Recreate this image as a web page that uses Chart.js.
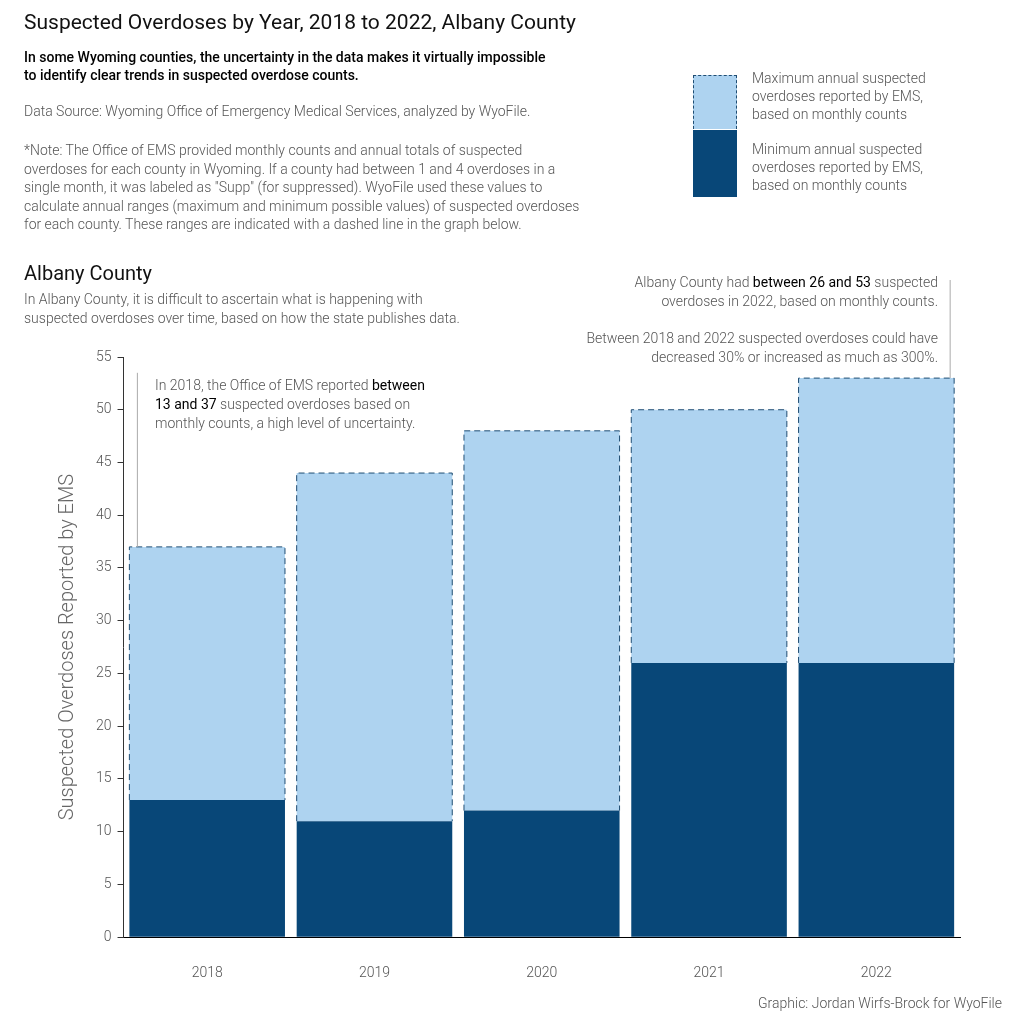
<!DOCTYPE html>
<html>
<head>
<meta charset="utf-8">
<script src="https://cdn.jsdelivr.net/npm/chart.js@4"></script>
<style>
  body { margin: 0; width: 1014px; height: 1024px; background: #fff; font-family: Roboto, sans-serif; font-weight: 300; color: #555; position: relative; overflow: hidden; }
  .t { position: absolute; z-index: 2; }
  #wrap { position: absolute; left: 0; top: 0; width: 1014px; height: 1024px; }
  b { font-weight: 400; color: #000; }
</style>
</head>
<body>
<div class="t" style="left:24px;top:10px;font-size:21px;color:#111;font-weight:400">Suspected Overdoses by Year, 2018 to 2022, Albany County</div>
<div class="t" style="left:24px;top:48px;font-size:14px;color:#000;font-weight:500;line-height:18px">In some Wyoming counties, the uncertainty in the data makes it virtually impossible<br>to identify clear trends in suspected overdose counts.</div>
<div class="t" style="left:24px;top:103px;font-size:14px">Data Source: Wyoming Office of Emergency Medical Services, analyzed by WyoFile.</div>
<div class="t" style="left:24px;top:141px;font-size:14px;line-height:18.5px">*Note: The Office of EMS provided monthly counts and annual totals of suspected<br>overdoses for each county in Wyoming. If a county had between 1 and 4 overdoses in a<br>single month, it was labeled as "Supp" (for suppressed). WyoFile used these values to<br>calculate annual ranges (maximum and minimum possible values) of suspected overdoses<br>for each county. These ranges are indicated with a dashed line in the graph below.</div>
<div class="t" style="left:693px;top:75px;width:44px;height:54px;background:#aed3f0;border:1px dashed #1f4d73;border-bottom:none;box-sizing:border-box"></div>
<div class="t" style="left:693px;top:130px;width:44px;height:67px;background:#084778"></div>
<div class="t" style="left:752px;top:69px;font-size:14px;line-height:18px">Maximum annual suspected<br>overdoses reported by EMS,<br>based on monthly counts</div>
<div class="t" style="left:752px;top:140px;font-size:14px;line-height:18px">Minimum annual suspected<br>overdoses reported by EMS,<br>based on monthly counts</div>
<div class="t" style="left:24px;top:261px;font-size:20px;color:#111;font-weight:400">Albany County</div>
<div class="t" style="left:24px;top:290px;font-size:14px;line-height:19px">In Albany County, it is difficult to ascertain what is happening with<br>suspected overdoses over time, based on how the state publishes data.</div>
<div class="t" style="right:76px;top:273px;font-size:14px;line-height:19px;text-align:right">Albany County had <b>between 26 and 53</b> suspected<br>overdoses in 2022, based on monthly counts.</div>
<div class="t" style="right:76px;top:329px;font-size:14px;line-height:19px;text-align:right">Between 2018 and 2022 suspected overdoses could have<br>decreased 30% or increased as much as 300%.</div>
<div class="t" style="left:155px;top:376px;font-size:14px;line-height:19px">In 2018, the Office of EMS reported <b>between<br>13 and 37</b> suspected overdoses based on<br>monthly counts, a high level of uncertainty.</div>
<div class="t" style="right:12px;top:995px;font-size:14px">Graphic: Jordan Wirfs-Brock for WyoFile</div>
<div id="wrap"><canvas id="chart"></canvas></div>
<script>
const years = ['2018', '2019', '2020', '2021', '2022'];
const minCounts = [13, 11, 12, 26, 26];
const maxCounts = [37, 44, 48, 50, 53];
const yTicks = [0, 5, 10, 15, 20, 25, 30, 35, 40, 45, 50, 55];

// the extra above the minimum, stacked on top
const rangeCounts = maxCounts.map((m, i) => m - minCounts[i]);

// dashed outline around each max bar + annotation leader lines
const outlinePlugin = {
  id: 'outline',
  afterDatasetsDraw(chart) {
    const ctx = chart.ctx;
    const meta = chart.getDatasetMeta(1);
    const y = chart.scales.y;
    ctx.save();
    ctx.strokeStyle = '#1f4d73';
    ctx.lineWidth = 1;
    ctx.setLineDash([6, 4]);
    meta.data.forEach((bar, i) => {
      const half = bar.width / 2;
      const top = y.getPixelForValue(maxCounts[i]);
      const bottom = y.getPixelForValue(minCounts[i]);
      ctx.beginPath();
      ctx.moveTo(bar.x - half, bottom);
      ctx.lineTo(bar.x - half, top);
      ctx.lineTo(bar.x + half, top);
      ctx.lineTo(bar.x + half, bottom);
      ctx.stroke();
    });
    ctx.setLineDash([]);
    ctx.strokeStyle = '#aaa';
    const first = meta.data[0];
    ctx.beginPath();
    ctx.moveTo(first.x - first.width / 2 + 8, y.getPixelForValue(53.5));
    ctx.lineTo(first.x - first.width / 2 + 8, y.getPixelForValue(maxCounts[0]));
    ctx.stroke();
    const last = meta.data[4];
    ctx.beginPath();
    ctx.moveTo(last.x + last.width / 2 - 4, 280);
    ctx.lineTo(last.x + last.width / 2 - 4, y.getPixelForValue(maxCounts[4]));
    ctx.stroke();
    ctx.restore();
  }
};

new Chart(document.getElementById('chart'), {
  type: 'bar',
  data: {
    labels: years,
    datasets: [
      { label: 'Minimum', data: minCounts, backgroundColor: '#084778', borderWidth: 0 },
      { label: 'Maximum', data: rangeCounts, backgroundColor: '#aed3f0', borderWidth: 0 }
    ]
  },
  options: {
    responsive: true,
    maintainAspectRatio: false,
    animation: false,
    layout: { padding: { top: 357, right: 54, bottom: 22, left: 46 } },
    barPercentage: 0.93,
    categoryPercentage: 1,
    plugins: { legend: { display: false }, tooltip: { enabled: false } },
    scales: {
      x: {
        stacked: true,
        grid: { display: false },
        border: { color: '#000', width: 1 },
        ticks: { color: '#555', font: { family: 'Roboto', size: 14, weight: 300 }, padding: 20 }
      },
      y: {
        stacked: true,
        min: 0, max: 55,
        afterBuildTicks: axis => { axis.ticks = yTicks.map(v => ({ value: v })); },
        grid: { drawOnChartArea: false, tickLength: 6, color: '#333' },
        border: { color: '#333' },
        ticks: { color: '#555', font: { family: 'Roboto', size: 14, weight: 300 }, padding: 6 },
        title: { display: true, text: 'Suspected Overdoses Reported by EMS', color: '#666', font: { family: 'Roboto', size: 20, weight: 300 }, padding: 10 }
      }
    }
  },
  plugins: [outlinePlugin]
});
</script>
</body>
</html>
